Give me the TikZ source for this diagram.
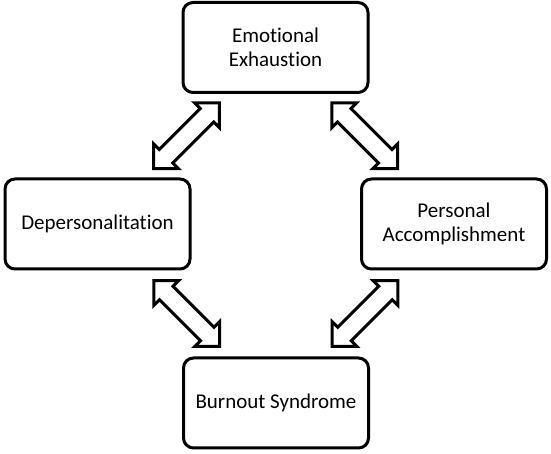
\documentclass[tikz,border=0pt]{standalone}
\usepackage{fontspec}
\setmainfont{Carlito}[Ligatures=NoCommon]
\usetikzlibrary{shapes.arrows,calc}

\begin{document}
\begin{tikzpicture}[x=1pt,y=1pt,
	box/.style={draw=black,line width=3pt,rounded corners=10pt,fill=white,
		minimum width=185pt,minimum height=90pt,align=center,
		font=\fontsize{21}{24}\selectfont},
	dblarrow/.style={draw=black,line width=3pt,fill=white,shape=double arrow,
		double arrow tip angle=90,double arrow head extend=8pt,
		inner sep=8pt,minimum height=93pt}]
		\useasboundingbox (0,0) rectangle (551,454);
		% the four boxes
		\node[box] (ee) at (275.5,406.5) {Emotional\\Exhaustion};
		\node[box] (dp) at (97.5,230) {Depersonalitation};
		\node[box] (pa) at (454,230) {Personal\\Accomplishment};
		\node[box] (bs) at (276,51) {Burnout Syndrome};
		% double arrows between the box corners
		\node[dblarrow,rotate=45] (a1) at ($(ee.south west)!0.5!(dp.north east)$) {};
		\node[dblarrow,rotate=-45] (a2) at ($(ee.south east)!0.5!(pa.north west)$) {};
		\node[dblarrow,rotate=-45] (a3) at ($(dp.south east)!0.5!(bs.north west)$) {};
		\node[dblarrow,rotate=45] (a4) at ($(pa.south west)!0.5!(bs.north east)$) {};
\end{tikzpicture}
\end{document}
